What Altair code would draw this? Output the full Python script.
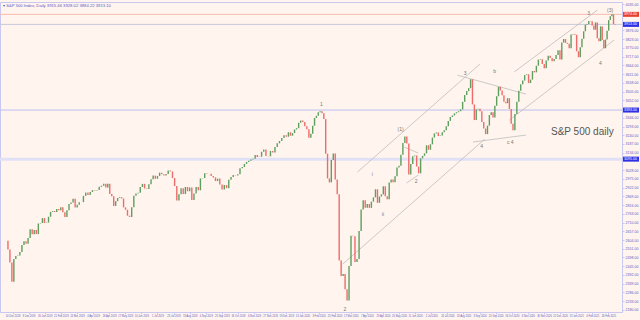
import altair as alt
import pandas as pd

months = ["Dec18", "Jan19", "Feb19", "Mar19", "Apr19", "May19", "Jun19", "Jul19", "Aug19", "Sep19",
          "Oct19", "Nov19", "Dec19", "Jan20", "Feb20", "Mar20", "Apr20", "May20", "Jun20", "Jul20",
          "Aug20", "Sep20", "Oct20", "Nov20", "Dec20", "Jan21", "Feb21", "Mar21"]
month_days = [11, 21, 19, 21, 21, 22, 20, 22, 22, 20, 23, 20, 21,
              21, 19, 22, 21, 20, 22, 22, 21, 21, 22, 20, 22, 19, 19, 15]
closes = [
    [2600, 2546, 2467, 2351, 2489, 2507],
    [2510, 2532, 2574, 2596, 2582, 2616, 2670, 2639, 2665, 2640, 2704],
    [2707, 2737, 2707, 2710, 2745, 2775, 2780, 2774, 2792, 2784],
    [2803, 2772, 2743, 2784, 2822, 2832, 2855, 2801, 2818, 2834, 2834],
    [2872, 2892, 2878, 2895, 2907, 2905, 2907, 2927, 2934, 2945],
    [2923, 2945, 2884, 2870, 2811, 2840, 2859, 2864, 2856, 2802, 2788, 2752],
    [2744, 2803, 2873, 2886, 2891, 2926, 2945, 2917, 2913, 2942],
    [2973, 2995, 2976, 2993, 3013, 3004, 2995, 3005, 3026, 3020, 2980],
    [2932, 2844, 2882, 2918, 2883, 2926, 2900, 2923, 2847, 2887, 2926],
    [2906, 2978, 2980, 3009, 3007, 3006, 2992, 2984, 2962, 2977],
    [2941, 2910, 2938, 2919, 2970, 2986, 2998, 2996, 3004, 3039, 3047],
    [3066, 3078, 3085, 3093, 3097, 3120, 3108, 3110, 3140, 3153],
    [3114, 3112, 3145, 3136, 3168, 3191, 3205, 3224, 3240, 3231],
    [3258, 3237, 3253, 3275, 3283, 3316, 3329, 3321, 3295, 3276, 3225],
    [3249, 3298, 3345, 3358, 3380, 3386, 3373, 3338, 3128, 2978, 2954],
    [3090, 3130, 2972, 2882, 2480, 2386, 2398, 2305, 2237, 2447, 2630, 2627],
    [2470, 2489, 2659, 2790, 2846, 2800, 2823, 2799, 2837, 2863, 2912],
    [2830, 2868, 2881, 2930, 2870, 2852, 2953, 2972, 2955, 2991, 3044],
    [3055, 3122, 3193, 3232, 3190, 3002, 3066, 3113, 3117, 3050, 3009, 3100],
    [3115, 3130, 3179, 3152, 3185, 3226, 3251, 3257, 3235, 3239, 3258, 3271],
    [3295, 3327, 3351, 3360, 3373, 3380, 3386, 3397, 3443, 3484, 3508],
    [3526, 3580, 3427, 3332, 3398, 3401, 3385, 3320, 3281, 3247, 3298, 3363],
    [3380, 3348, 3419, 3477, 3534, 3512, 3483, 3443, 3435, 3465, 3400, 3310, 3270],
    [3369, 3444, 3510, 3550, 3572, 3605, 3610, 3557, 3578, 3630, 3622],
    [3662, 3699, 3702, 3672, 3647, 3694, 3722, 3709, 3690, 3703, 3727, 3756],
    [3700, 3803, 3824, 3801, 3795, 3768, 3852, 3855, 3850, 3750, 3714],
    [3774, 3826, 3871, 3911, 3916, 3934, 3932, 3906, 3881, 3925, 3829, 3811],
    [3901, 3819, 3768, 3821, 3875, 3939, 3962, 3974, 3915, 3913],
]

# horizontal levels
level_prices = [3974, 3913, 3393, 3095]
level_colors = ["#F6BCAE", "#C9C9DC", "#BDBDF2", "#E0E0F6"]
level_widths = [1, 1, 1, 3]
tag_colors = ["#E8402E", "#2F2FE6", "#2F2FE6", "#2F2FE6"]

# trend lines: (trading-day, price) endpoints
tl_x1 = [328.3, 314.6, 421.3, 435.9, 474.2, 469.7, 372.0, 373.9]
tl_y1 = [3017, 2458, 3605, 3199, 3624, 3332, 3168, 2950]
tl_x2 = [442.3, 446.9, 485.2, 485.2, 551.8, 567.3, 384.9, 384.9]
tl_y2 = [3672, 3217, 3490, 3241, 4000, 3818, 3132, 2998]

# wave labels
wl_text = ["1", "2", "i", "ii", "(1)", "2", "3", "4", "b", "c 4", "3", "4", "(3)"]
wl_x = [294.6, 316.5, 342.0, 352.0, 368.4, 383.0, 428.6, 444.0, 456.0, 470.6, 543.6, 554.5, 563.6]
wl_y = [3429, 2185, 3005, 2762, 3278, 2962, 3618, 3174, 3630, 3199, 3982, 3678, 4000]

date_labels = ["14 Dec 2018", "8 Jan 2019", "30 Jan 2019", "21 Feb 2019", "14 Mar 2019", "4 Apr 2019",
               "26 Apr 2019", "17 May 2019", "10 Jun 2019", "1 Jul 2019", "23 Jul 2019", "13 Aug 2019",
               "4 Sep 2019", "25 Sep 2019", "16 Oct 2019", "6 Nov 2019", "27 Nov 2019", "19 Dec 2019",
               "13 Jan 2020", "3 Feb 2020", "25 Feb 2020", "17 Mar 2020", "7 Apr 2020", "29 Apr 2020",
               "20 May 2020", "11 Jun 2020", "2 Jul 2020", "24 Jul 2020", "13 Aug 2020", "3 Sep 2020",
               "25 Sep 2020", "16 Oct 2020", "6 Nov 2020", "30 Nov 2020", "21 Dec 2020", "13 Jan 2021",
               "4 Feb 2021", "26 Feb 2021"]
label_step = 15
label_offset = 7

price_ticks = [2180 + 53 * k for k in range(36)]

# ---------------- build tables -------------
rows = []
start = 0
prev = closes[0][0]
for days, vals in zip(month_days, closes):
    n = len(vals)
    for i, c in enumerate(vals):
        td = start + (i + 0.5) * days / n
        rows.append({"td": td, "open": prev, "close": c, "up": c >= prev})
        prev = c
    start += days
candles = pd.DataFrame(rows)
total_td = start

levels = pd.DataFrame({"price": level_prices, "color": level_colors, "w": level_widths,
                       "tag": tag_colors, "label": [f"{p:.2f}" for p in level_prices]})
trends = pd.DataFrame({"x1": tl_x1, "y1": tl_y1, "x2": tl_x2, "y2": tl_y2})
waves = pd.DataFrame({"t": wl_text, "x": wl_x, "y": wl_y})

# axis labels hidden behind the price tags are left out
shown_ticks = [t for t in price_ticks if all(abs(t - p) > 32 for p in level_prices)]

W, H = 622, 310
xs = alt.Scale(domain=[0, total_td + 1], nice=False, zero=False)
ys = alt.Scale(domain=[2167, 4049], nice=False, zero=False)

lab_arr = "[" + ",".join(f"'{d}'" for d in date_labels) + "]"
x_axis = alt.Axis(values=[label_offset + label_step * j for j in range(len(date_labels))],
                  labelExpr=f"{lab_arr}[round((datum.value-{label_offset})/{label_step})]",
                  title=None, labelFontSize=2.6)
y_axis = alt.Axis(orient="right", values=shown_ticks, format=".2f", title=None, labelFontSize=3.6)

lev = alt.Chart(levels).mark_rule().encode(
    y=alt.Y("price:Q", scale=ys, axis=y_axis),
    color=alt.Color("color:N", scale=None),
    strokeWidth=alt.StrokeWidth("w:Q", scale=None),
)

tr = alt.Chart(trends).mark_rule(color="#BDBDBD", strokeWidth=0.8).encode(
    x=alt.X("x1:Q", scale=xs, axis=x_axis), x2="x2:Q",
    y=alt.Y("y1:Q", scale=ys, axis=y_axis), y2="y2:Q",
)

bars = alt.Chart(candles).mark_bar(size=1.4).encode(
    x=alt.X("td:Q", scale=xs, axis=x_axis),
    y=alt.Y("open:Q", scale=ys, axis=y_axis),
    y2="close:Q",
    color=alt.condition("datum.up", alt.value("#5E9E5E"), alt.value("#EE6B6B")),
)

wv = alt.Chart(waves).mark_text(fontSize=5, color="#777777", font="Liberation Sans").encode(
    x=alt.X("x:Q", scale=xs, axis=x_axis), y=alt.Y("y:Q", scale=ys, axis=y_axis), text="t:N")

tags = alt.Chart(levels).mark_rect(height=5).encode(
    x=alt.value(W + 1), x2=alt.value(W + 17),
    y=alt.Y("price:Q", scale=ys, axis=y_axis),
    color=alt.Color("tag:N", scale=None),
)
tag_txt = alt.Chart(levels).mark_text(fontSize=3.6, color="white", align="left", font="Liberation Sans").encode(
    x=alt.value(W + 2), y=alt.Y("price:Q", scale=ys, axis=y_axis), text="label:N")

title_txt = alt.Chart(pd.DataFrame({"t": ["▾ S&P 500 Index, Daily  3915.46 3928.02 3884.22 3913.10"]})).mark_text(
    fontSize=4.2, color="#5B5BC8", align="left", baseline="top", font="Liberation Sans").encode(
    x=alt.value(3), y=alt.value(2), text="t:N")

name_txt = alt.Chart(pd.DataFrame({"t": ["S&P 500 daily"]})).mark_text(
    fontSize=10, color="#555555", align="left", baseline="alphabetic", font="Liberation Sans").encode(
    x=alt.value(551), y=alt.value(133), text="t:N")

chart = alt.layer(lev, tr, bars, wv, tags, tag_txt, title_txt, name_txt).properties(
    width=W, height=H, background="#FFF5EE",
    autosize=alt.AutoSizeParams(type="none"),
    padding={"left": 0, "top": 2, "right": 18, "bottom": 8},
).configure_view(stroke="#C8C8F0", strokeWidth=1, fill="#FFF5EE").configure_axis(
    labelOverlap=False, labelColor="#5B5BC8", tickColor="#C8C8F0", tickSize=2,
    domainColor="#C8C8F0", grid=False, labelPadding=1, labelBound=False, labelFont="Liberation Sans",
)

chart.save("out.html", embed_options={"renderer": "svg", "actions": False})
